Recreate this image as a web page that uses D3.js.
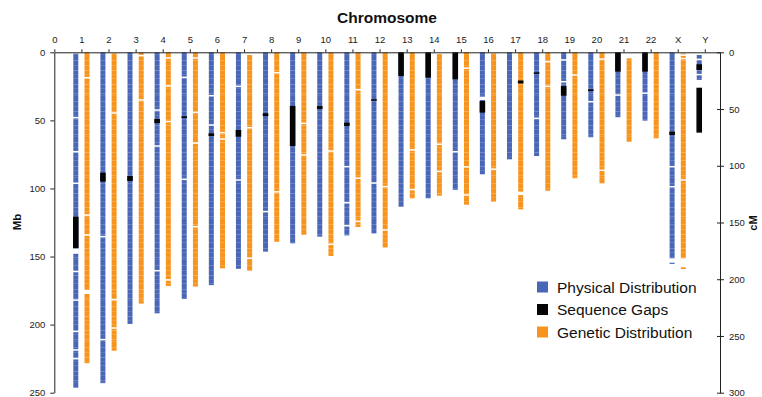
<!DOCTYPE html>
<html>
<head>
<meta charset="utf-8">
<script src="https://cdn.jsdelivr.net/npm/d3@7"></script>
<style>
  body { margin: 0; background: #fff; }
  svg { display: block; font-family: "Liberation Sans", Arial, sans-serif; }
</style>
</head>
<body>
<div id="chart"></div>
<script>
// chromosome categories
const chromosomes = ["1","2","3","4","5","6","7","8","9","10","11","12","13","14","15","16","17","18","19","20","21","22","X","Y"];

// physical map (Mb): start and end of each blue bar
const physStart = [1,0,0,0,0,0,0,0,0,0,0,0,0,0,0,0,0,0,0,0,0,0,0,2];
const physEnd = [246.3,243,199.5,191.7,181.2,171,159,146.4,140.3,135.4,134.5,133,113.4,107.2,101,89.6,78.6,76.2,63.9,62.4,47.7,50.2,155.4,20.3];

// genetic map (cM): start and end of each orange bar (no Y)
const genStart = [0,1,0,0,0,0,2.4,0,0,0,0,0,0,1.5,0,1,0,0,0,0,5.3,0,1,null];
const genEnd = [274,263,221.5,206,206.5,190.4,192.5,167,161,179.5,154,172,128.7,126.4,134.3,131.7,138.4,122,111,115.5,78.8,75.8,191,null];

// sequence gaps (Mb) [chromosome, from, to, bar]
const seqGaps = [
  ["1",120.7,143.9,"phys"],["2",88.4,95,"phys"],["3",90.8,94.5,"phys"],["4",49,52,"phys"],
  ["5",47,48.2,"phys"],["6",59.5,61.5,"phys"],["7",57,62,"phys"],["8",44.8,46.8,"phys"],
  ["9",39.4,68.8,"phys"],["10",39.5,41.6,"phys"],["11",51.7,54.1,"phys"],["12",34.5,35.5,"phys"],
  ["13",0,17.4,"phys"],["14",0,18.6,"phys"],["15",0,19.8,"phys"],["16",35.8,44.3,"phys"],
  ["17",20.7,22.9,"gen"],["18",14.7,15.8,"phys"],["19",24.8,31.9,"phys"],["20",27.2,28.4,"phys"],
  ["21",0,14.2,"phys"],["22",0,14.2,"phys"],["X",58.3,60.7,"phys"],["Y",8.8,13,"phys"],["Y",26,59,"phys"]
];

// marker-free stretches on the physical bars (Mb)
const physBreaks = [
  ["1",48],["1",73],["1",96.2],["1",161],["1",182],["1",205],["1",218.6],["1",225],
  ["2",135.4],["2",211],["4",42.4],["4",68.8],["4",160.4],["5",18.4],["5",93.3],
  ["6",31.9],["6",53.4],["7",25],["7",93.8],["8",117],["11",84],["11",110.5],["11",127.4],
  ["12",96],["15",73],["18",48.5],["19",5.6],["19",21.6],["20",36.3],["21",31.4],["22",30],
  ["X",84],["X",98.7],["Y",5.2],["Y",16.4]
];
const physSpans = [["1",144,148],["16",32.6,35],["X",151.3,154.5]];

// marker-free stretches on the genetic bars (cM)
const genBreaks = [
  ["1",22.4],["1",143.4],["1",161],["2",53.5],["2",218],["2",243],["3",3],["3",42],
  ["4",5],["4",29.7],["4",61],["4",200.6],["5",5],["5",53],["5",80],["5",153.7],
  ["6",70.8],["6",76.4],["7",66.5],["7",181.5],["8",18],["8",123],["9",62.6],["9",90.5],
  ["10",87],["10",169.2],["11",33],["11",111],["11",149],["12",118.4],["12",156.6],
  ["13",86],["13",121],["14",81],["14",105],["15",14],["15",101],["15",125.8],["16",103],
  ["18",8.3],["18",30],["19",20],["20",6],["20",104],["X",2.5],["X",5.5],["X",112.5]
];
const genSpans = [["1",209.5,213],["17",122.8,125.8],["X",181.5,189.5]];

const mbTicks = [0,50,100,150,200,250];
const cmTicks = [0,50,100,150,200,250,300];
const legendItems = ["Physical Distribution","Sequence Gaps","Genetic Distribution"];

const BLUE = "#4a67b7", ORANGE = "#f7941e", BLACK = "#050505";

const width = 762, height = 397;
const svg = d3.select("#chart").append("svg").attr("width", width).attr("height", height);

// faint marker texture inside the bars
const defs = svg.append("defs");
function texture(id, base, light) {
  const p = defs.append("pattern").attr("id", id).attr("patternUnits", "userSpaceOnUse")
    .attr("width", 8).attr("height", 41);
  p.append("rect").attr("width", 8).attr("height", 41).attr("fill", base);
  [[2, 0.35], [6, 0.2], [11, 0.3], [13, 0.15], [19, 0.3], [24, 0.2], [29, 0.35], [33, 0.15], [37, 0.25]]
    .forEach(([o, op]) => {
      p.append("rect").attr("x", 0).attr("y", o).attr("width", 8).attr("height", 1)
        .attr("fill", light).attr("opacity", op);
    });
}
texture("texPhys", BLUE, "#b4c1e6");
texture("texGen", ORANGE, "#fde0b4");

const x = d3.scaleLinear().domain([0, 24.56]).range([54.3, 720]);
const yMb = d3.scaleLinear().domain([0, 250]).range([52.3, 392.7]);
const yCm = d3.scaleLinear().domain([0, 300]).range([52.3, 392.7]);
const pos = c => x(chromosomes.indexOf(c) + 1);
const off = 5.6, bw = 5;

// physical bars
svg.append("g").selectAll("rect").data(chromosomes).enter().append("rect")
  .attr("x", c => pos(c) - off - bw / 2)
  .attr("y", (c, i) => yMb(physStart[i]))
  .attr("width", bw)
  .attr("height", (c, i) => yMb(physEnd[i]) - yMb(physStart[i]))
  .attr("fill", "url(#texPhys)");

// genetic bars
svg.append("g").selectAll("rect").data(chromosomes.filter((c, i) => genEnd[i] != null)).enter().append("rect")
  .attr("x", c => pos(c) + off - bw / 2)
  .attr("y", c => yCm(genStart[chromosomes.indexOf(c)]))
  .attr("width", bw)
  .attr("height", c => { const i = chromosomes.indexOf(c); return yCm(genEnd[i]) - yCm(genStart[i]); })
  .attr("fill", "url(#texGen)");

// white breaks
const wg = svg.append("g").attr("fill", "#fff");
wg.selectAll(".pb").data(physBreaks).enter().append("rect")
  .attr("x", d => pos(d[0]) - off - bw / 2 - 0.5).attr("y", d => yMb(d[1]) - 0.75)
  .attr("width", bw + 1).attr("height", 1.5);
wg.selectAll(".ps").data(physSpans).enter().append("rect")
  .attr("x", d => pos(d[0]) - off - bw / 2 - 0.5).attr("y", d => yMb(d[1]))
  .attr("width", bw + 1).attr("height", d => yMb(d[2]) - yMb(d[1]));
wg.selectAll(".gb").data(genBreaks).enter().append("rect")
  .attr("x", d => pos(d[0]) + off - bw / 2 - 0.5).attr("y", d => yCm(d[1]) - 0.75)
  .attr("width", bw + 1).attr("height", 1.5);
wg.selectAll(".gs").data(genSpans).enter().append("rect")
  .attr("x", d => pos(d[0]) + off - bw / 2 - 0.5).attr("y", d => yCm(d[1]))
  .attr("width", bw + 1).attr("height", d => yCm(d[2]) - yCm(d[1]));

// sequence gaps
svg.append("g").selectAll("rect").data(seqGaps).enter().append("rect")
  .attr("x", d => pos(d[0]) + (d[3] === "gen" ? off : -off) - bw / 2 - 0.3)
  .attr("y", d => yMb(d[1]))
  .attr("width", bw + 0.6)
  .attr("height", d => Math.max(1.5, yMb(d[2]) - yMb(d[1])))
  .attr("fill", BLACK);

// axes
function styleAxis(g) {
  g.select(".domain").attr("stroke", "#222");
  g.selectAll(".tick line").attr("stroke", "#222");
  g.selectAll(".tick text").attr("fill", "#222").style("font-size", "9.5px")
    .style("font-family", "'Liberation Sans', Arial, sans-serif");
}

const topAxis = d3.axisTop(x).tickValues(d3.range(0, 25))
  .tickFormat(i => i === 0 ? "0" : chromosomes[i - 1])
  .tickSizeInner(3).tickSizeOuter(0).tickPadding(6);
svg.append("g").attr("transform", "translate(0,52.3)").call(topAxis).call(styleAxis);

const leftAxis = d3.axisLeft(yMb).tickValues(mbTicks).tickSizeInner(4).tickSizeOuter(0).tickPadding(5);
svg.append("g").attr("transform", "translate(54.3,0)").call(leftAxis).call(styleAxis);

const rightAxis = d3.axisRight(yCm).tickValues(cmTicks).tickSizeInner(4).tickSizeOuter(0).tickPadding(5);
const ra = svg.append("g").attr("transform", "translate(720,0)").call(rightAxis).call(styleAxis);
ra.selectAll(".tick line").attr("x1", -3);

// titles
svg.append("text").attr("x", 387).attr("y", 23).attr("text-anchor", "middle")
  .style("font-size", "15.5px").style("font-weight", "bold").attr("fill", "#111").text("Chromosome");
svg.append("text").attr("transform", "translate(21,222) rotate(-90)").attr("text-anchor", "middle")
  .style("font-size", "11.5px").style("font-weight", "bold").attr("fill", "#111").text("Mb");
svg.append("text").attr("transform", "translate(757,223) rotate(-90)").attr("text-anchor", "middle")
  .style("font-size", "11px").style("font-weight", "bold").attr("fill", "#111").text("cM");

// legend
const legendColors = [BLUE, BLACK, ORANGE];
const lg = svg.append("g").attr("transform", "translate(537,287)");
const li = lg.selectAll("g").data(legendItems).enter().append("g")
  .attr("transform", (d, i) => `translate(0,${i * 22.5})`);
li.append("rect").attr("x", 0).attr("y", -5.5).attr("width", 11).attr("height", 11)
  .attr("fill", (d, i) => legendColors[i]);
li.append("text").attr("x", 20).attr("y", 5.5).style("font-size", "15.5px").attr("fill", "#111").text(d => d);
</script>
</body>
</html>
